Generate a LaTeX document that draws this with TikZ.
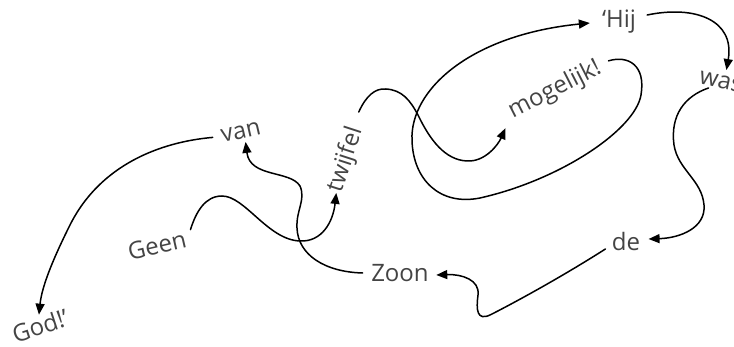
\documentclass[tikz,border=0pt]{standalone}
\usepackage{fontspec}
\setmainfont{Open Sans}
\usetikzlibrary{arrows.meta}
\definecolor{txt}{HTML}{444444}
\begin{document}
\begin{tikzpicture}[x=1pt,y=-1pt,
  word/.style={text=txt, font=\fontsize{24}{27}\selectfont, inner sep=2pt},
  link/.style={line width=1.5pt, line cap=round, -{Triangle[length=11pt,width=9pt]}}]
\path[use as bounding box] (0,0) rectangle (734,347);
\clip (0,0) rectangle (734,347);
% words
\node[word, rotate=13] (Geen) at (157,245) {Geen};
\node[word, rotate=72] (twijfel) at (346,160) {twijfel};
\node[word, rotate=27] (mogelijk) at (555,90) {mogelijk!};
\node[word] (Hij) at (619,22) {`Hij};
\node[word, rotate=-12] (was) at (721,82) {was};
\node[word] (de) at (626,242) {de};
\node[word] (Zoon) at (400,273) {Zoon};
\node[word, rotate=13] (van) at (241,132) {van};
\node[word, rotate=18] (God) at (40,326) {God!'};
% connectors
\draw[link] ([shift={(5,2.5)}]Geen.north east) .. controls (196,212) and (205,196) .. (222,196)
  .. controls (245,196) and (268,240) .. (300,241)
  .. controls (322,242) and (333,222) .. ([shift={(1.3,-1)}]twijfel.west);
\draw[link] ([shift={(1.7,-14)}]twijfel.east) .. controls (366,96) and (375,88) .. (386,89)
  .. controls (402,90) and (410,100) .. (418,115)
  .. controls (430,140) and (445,160) .. (467,161)
  .. controls (485,162) and (498,145) .. ([shift={(-2.7,14.3)}]mogelijk.west);
\draw[link] ([shift={(6.7,-5.3)}]mogelijk.east) .. controls (628,55) and (646,65) .. (641,95)
  .. controls (635,130) and (560,180) .. (480,198)
  .. controls (440,206) and (413,180) .. (412,140)
  .. controls (410,90) and (470,35) .. ([shift={(-10,1)}]Hij.west);
\draw[link] ([shift={(9,-7)}]Hij.east) .. controls (695,5) and (735,20) .. ([shift={(3.6,-3.3)}]was.north);
\draw[link] ([shift={(-10.6,-2.7)}]was.south) .. controls (685,96) and (670,115) .. (674,145)
  .. controls (678,170) and (702,180) .. (704,205)
  .. controls (706,228) and (680,238) .. ([shift={(6.3,-3)}]de.east);
\draw[link] ([shift={(-4.3,7)}]de.west) .. controls (560,278) and (510,305) .. (490,315)
  .. controls (477,321) and (476,310) .. (478,295)
  .. controls (480,280) and (462,274) .. ([shift={(5.4,2)}]Zoon.east);
\draw[link] ([shift={(-6.4,0)}]Zoon.west) .. controls (325,272) and (298,255) .. (297,228)
  .. controls (296,210) and (306,200) .. (300,186)
  .. controls (290,170) and (250,178) .. ([shift={(2.6,1.3)}]van.south);
\draw[link] ([shift={(-6.6,0.4)}]van.west) .. controls (160,142) and (100,165) .. (70,225)
  .. controls (55,255) and (42,285) .. ([shift={(2.5,-0.4)}]God.north);
\end{tikzpicture}
\end{document}
